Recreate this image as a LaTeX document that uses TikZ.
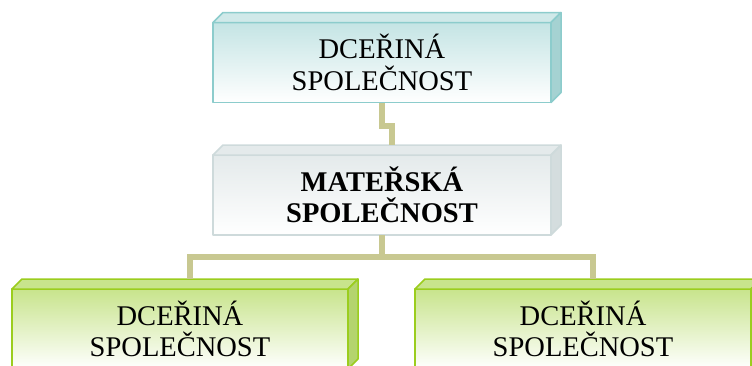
\documentclass[tikz,border=0pt]{standalone}
\usepackage{fontspec}
\setmainfont{Liberation Serif}
\usetikzlibrary{positioning}
\definecolor{linka}{RGB}{200,200,145}
\definecolor{modra}{RGB}{196,228,228}
\definecolor{modraram}{RGB}{140,204,204}
\definecolor{modrabok}{RGB}{165,210,210}
\definecolor{seda}{RGB}{228,234,235}
\definecolor{sedaram}{RGB}{206,218,219}
\definecolor{sedabok}{RGB}{212,221,222}
\definecolor{zelena}{RGB}{200,228,140}
\definecolor{zelenaram}{RGB}{155,205,30}
\definecolor{zelenabok}{RGB}{180,212,110}
% boky kvadru: uzel, ram, vrch, bok
\newcommand\kvadr[4]{%
  \draw[#2,fill=#3] (#1.north west) -- ++(10,-10) -- ([shift={(10,-10)}]#1.north east) -- (#1.north east) -- cycle;
  \draw[#2,fill=#4] (#1.north east) -- ++(10,-10) -- ([shift={(10,-10)}]#1.south east) -- (#1.south east) -- cycle;}
\begin{document}
\begin{tikzpicture}[x=1pt,y=-1pt,line join=round,font=\fontsize{28.5}{31.5}\selectfont,
    firma/.style={minimum width=338pt,minimum height=80pt,align=center,inner sep=0pt,outer sep=0pt,line width=1.5pt},
    spoj/.style={draw=linka,line width=6pt,line join=miter}]
    \clip (0,0) rectangle (752,365);
    \node[firma,draw=modraram,top color=modra,bottom color=white] (dcera) at (382,62.5) {DCEŘINÁ\\SPOLEČNOST};
    \node[firma,draw=sedaram,top color=seda,bottom color=white,font=\fontsize{28.5}{31.5}\selectfont\bfseries] (matka) at (382,195) {MATEŘSKÁ\\SPOLEČNOST};
    \node[firma,draw=zelenaram,top color=zelena,bottom color=white,minimum width=336pt] (dceraL) at (180,329) {DCEŘINÁ\\SPOLEČNOST};
    \node[firma,draw=zelenaram,top color=zelena,bottom color=white,minimum width=336pt] (dceraR) at (583,329) {DCEŘINÁ\\SPOLEČNOST};
    \kvadr{dcera}{draw=modraram,line width=1.5pt}{modra!80}{modrabok}
    \kvadr{matka}{draw=sedaram,line width=1.5pt}{seda}{sedabok}
    \kvadr{dceraL}{draw=zelenaram,line width=1.5pt}{zelena}{zelenabok}
    \kvadr{dceraR}{draw=zelenaram,line width=1.5pt}{zelena}{zelenabok}
    \draw[spoj] (dcera.south) -- ++(0,23) -| ([shift={(10,-10)}]matka.north);
    \draw[spoj] (matka.south) -- ++(0,22) coordinate (rozcesti);
    \foreach \n in {dceraL,dceraR}
    \draw[spoj] (rozcesti) -| ([shift={(10,-10)}]\n.north);
\end{tikzpicture}
\end{document}
